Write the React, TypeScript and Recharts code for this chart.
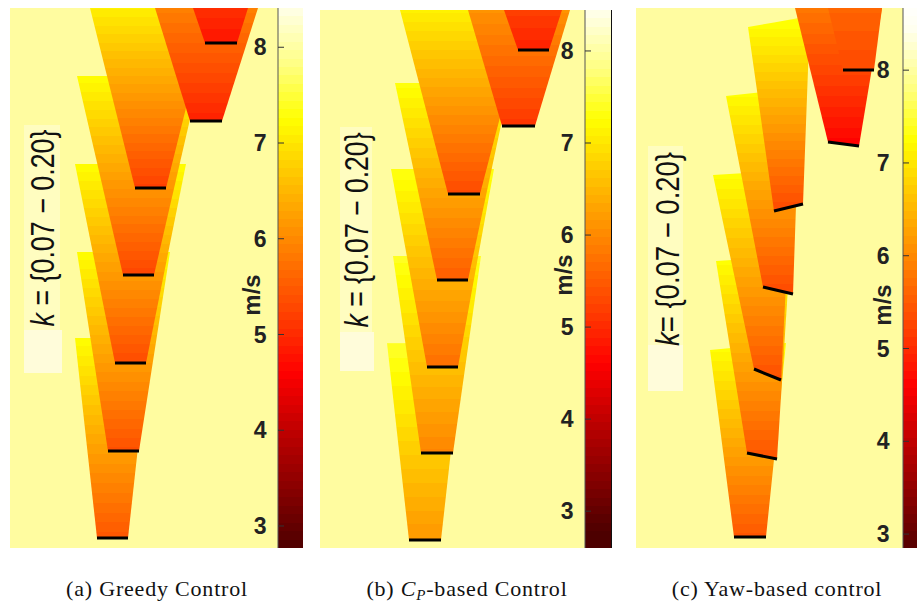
import React from "react";
import {
  ComposedChart,
  Area,
  Line,
  XAxis,
  YAxis,
  ReferenceArea,
  ReferenceDot,
  ReferenceLine,
} from "recharts";

type Pt = [number, number];

// colour map of the bars (speed in m/s -> colour)
const cmapSpeeds = [2.77, 3.3, 4.0, 4.6, 5.2, 5.9, 6.6, 7.25, 7.8, 8.45, 8.7];
const cmapColors = ["#4d0000", "#800000", "#c00000", "#ff0000", "#ff3f00", "#ff8000", "#ffc000", "#ffff00", "#ffff80", "#fffff0", "#ffffff"];
const cbTicks = [3, 4, 5, 6, 7, 8];

// wake footprints, grid units (x across, y downstream). vertices: rotor left, rotor right, far right, far left
const greedyWakes: Pt[][] = [
  [[87, 10], [118, 10], [140, 210], [65, 210]],
  [[98, 97], [129, 97], [160, 296], [67, 296]],
  [[105, 185], [136, 185], [176, 384], [65, 384]],
  [[113, 273], [144, 273], [190, 472], [67, 472]],
  [[125, 360], [156, 360], [201, 540], [80, 540]],
  [[180, 427], [212, 427], [248, 540], [145, 540]],
  [[195, 505], [227, 505], [238, 540], [183, 540]],
];
const greedyNear = [5.45, 5.38, 5.32, 5.26, 5.2, 4.9, 4.78];
const greedyFar = [7.25, 7.25, 7.25, 7.25, 7.1, 5.9, 5.05];

const cpWakes: Pt[][] = [
  [[89, 8], [121, 8], [143, 205], [67, 205]],
  [[101, 95], [133, 95], [161, 292], [73, 292]],
  [[107, 181], [138, 181], [174, 379], [71, 379]],
  [[117, 268], [148, 268], [190, 465], [75, 465]],
  [[128, 354], [160, 354], [208, 538], [80, 538]],
  [[182, 422], [215, 422], [250, 538], [148, 538]],
  [[198, 498], [229, 498], [242, 538], [184, 538]],
];
const cpNear = [6.15, 5.95, 5.7, 5.5, 5.3, 5.1, 4.9];
const cpFar = [7.45, 7.4, 7.35, 7.3, 7.1, 6.1, 5.2];

const yawWakes: Pt[][] = [
  [[98, 11], [130, 11], [150, 205], [74, 198]],
  [[111, 95], [141, 89], [154, 292], [80, 287]],
  [[118, 179], [145, 168], [156, 378], [77, 373]],
  [[127, 261], [157, 254], [164, 460], [90, 452]],
  [[138, 337], [167, 344], [174, 532], [112, 521]],
  [[192, 406], [223, 402], [246, 540], [159, 540]],
  [[207, 478], [238, 478], [246, 540], [192, 540]],
];
const yawNear = [5.45, 5.4, 5.35, 5.3, 5.3, 4.6, 5.3];
const yawFar = [7.3, 7.3, 7.3, 7.3, 7.35, 5.8, 5.6];

const BG = "#FFFCA0";
const LEVELS = 64;

function hex(h: string) {
  return [1, 3, 5].map((i) => parseInt(h.slice(i, i + 2), 16));
}

function cmap(v: number) {
  const s = cmapSpeeds;
  if (v <= s[0]) return cmapColors[0];
  if (v >= s[s.length - 1]) return cmapColors[s.length - 1];
  let i = 0;
  while (v > s[i + 1]) i++;
  const t = (v - s[i]) / (s[i + 1] - s[i]);
  const a = hex(cmapColors[i]);
  const b = hex(cmapColors[i + 1]);
  const c = a.map((x, k) => Math.round(x + (b[k] - x) * t));
  return `rgb(${c[0]},${c[1]},${c[2]})`;
}

// stepped gradient (discrete colour levels like the original figure)
function bandStops(v0: number, v1: number, lo: number, hi: number) {
  const step = (hi - lo) / LEVELS;
  const band = (v: number) => Math.floor((v - lo) / step);
  const col = (b: number) => cmap(lo + (b + 0.5) * step);
  const out: React.ReactNode[] = [];
  const b0 = band(v0);
  const b1 = band(v1);
  const dir = b1 >= b0 ? 1 : -1;
  out.push(<stop key="s" offset={0} stopColor={col(b0)} />);
  for (let b = b0; b !== b1; b += dir) {
    const edge = lo + (dir > 0 ? b + 1 : b) * step;
    const t = (edge - v0) / (v1 - v0);
    out.push(<stop key={`a${b}`} offset={t} stopColor={col(b)} />);
    out.push(<stop key={`b${b}`} offset={t} stopColor={col(b + dir)} />);
  }
  out.push(<stop key="e" offset={1} stopColor={col(b1)} />);
  return out;
}

// convex polygon -> lower/upper bounds along x, for a range Area
function toRange(poly: Pt[]) {
  const xs = Array.from(new Set(poly.map((p) => p[0]))).sort((a, b) => a - b);
  return xs.map((x) => {
    const ys: number[] = [];
    for (let i = 0; i < poly.length; i++) {
      const [x1, y1] = poly[i];
      const [x2, y2] = poly[(i + 1) % poly.length];
      if (x1 === x2) {
        if (x === x1) ys.push(y1, y2);
        continue;
      }
      if (x >= Math.min(x1, x2) && x <= Math.max(x1, x2)) ys.push(y1 + ((y2 - y1) * (x - x1)) / (x2 - x1));
    }
    return { x, y: [Math.min(...ys), Math.max(...ys)] };
  });
}

interface PanelCfg {
  id: string;
  left: number;
  top: number;
  width: number;
  height: number;
  wakes: Pt[][];
  near: number[];
  far: number[];
  range: number[];
  box: number[];
  patch: number[];
  labelAt: Pt;
  labelLen: number;
  labelText: string;
}

const panels: PanelCfg[] = [
  { id: "a", left: 10, top: 8, width: 268, height: 540, wakes: greedyWakes, near: greedyNear, far: greedyFar, range: [2.77, 8.41],
    box: [14, 50, 218, 423], patch: [14, 52, 175, 218], labelAt: [32, 320], labelLen: 197, labelText: " = {0.07 − 0.20}" },
  { id: "b", left: 320, top: 10, width: 265, height: 538, wakes: cpWakes, near: cpNear, far: cpFar, range: [2.6, 8.445],
    box: [20, 52, 216, 421], patch: [20, 54, 177, 216], labelAt: [36, 318], labelLen: 195, labelText: " = {0.07 − 0.20}" },
  { id: "c", left: 636, top: 8, width: 267, height: 540, wakes: yawWakes, near: yawNear, far: yawFar, range: [2.85, 8.67],
    box: [12, 47, 203, 402], patch: [12, 47, 157, 203], labelAt: [31, 299], labelLen: 194, labelText: "= {0.07 − 0.20}" },
];

const bars = [
  { id: "a", left: 278, top: 8, width: 25, height: 540, range: [2.77, 8.41], margin: 17.5, ms: 27, msY: 295, border: false },
  { id: "b", left: 585, top: 10, width: 27, height: 538, range: [2.6, 8.445], margin: 17.5, ms: 22, msY: 275, border: true },
  { id: "c", left: 903, top: 8, width: 14, height: 540, range: [2.85, 8.67], margin: 19.5, ms: 21, msY: 305, border: false },
];

function WakePanel({ cfg }: { cfg: PanelCfg }) {
  return (
    <div style={{ position: "absolute", left: cfg.left, top: cfg.top, width: cfg.width, height: cfg.height, background: BG }}>
      <ComposedChart width={cfg.width} height={cfg.height} margin={{ top: 0, right: 0, bottom: 0, left: 0 }}>
        <defs>
          {cfg.wakes.map((w, i) => (
            <linearGradient key={i} id={`${cfg.id}-w${i}`} x1="0" y1="1" x2="0" y2="0">
              {bandStops(cfg.near[i], cfg.far[i], cfg.range[0], cfg.range[1])}
            </linearGradient>
          ))}
        </defs>
        <XAxis type="number" dataKey="x" domain={[0, cfg.width]} hide allowDataOverflow />
        <YAxis type="number" domain={[0, cfg.height]} hide allowDataOverflow />
        <ReferenceArea x1={cfg.box[0]} x2={cfg.box[1]} y1={cfg.box[2]} y2={cfg.box[3]} fill="#FFFDC0" fillOpacity={1} stroke="none" />
        <ReferenceArea x1={cfg.patch[0]} x2={cfg.patch[1]} y1={cfg.patch[2]} y2={cfg.patch[3]} fill="#FFFCDA" fillOpacity={1} stroke="none" />
        {cfg.wakes.map((w, i) => (
          <Area
            key={`w${i}`}
            data={toRange(w)}
            dataKey="y"
            type="linear"
            stroke="none"
            fill={`url(#${cfg.id}-w${i})`}
            fillOpacity={1}
            dot={false}
            activeDot={false}
            isAnimationActive={false}
          />
        ))}
        {cfg.wakes.map((w, i) => (
          <Line
            key={`r${i}`}
            data={[{ x: w[0][0], y: w[0][1] }, { x: w[1][0], y: w[1][1] }]}
            dataKey="y"
            type="linear"
            stroke="#000"
            strokeWidth={3}
            dot={false}
            activeDot={false}
            isAnimationActive={false}
          />
        ))}
        <ReferenceDot
          x={cfg.labelAt[0]}
          y={cfg.labelAt[1]}
          r={1}
          fill="none"
          stroke="none"
          label={{
            content: (props: any) => {
              const vb = props.viewBox;
              const cx = vb.x + vb.width / 2;
              const cy = vb.y + vb.height / 2;
              return (
                <text
                  x={cx}
                  y={cy}
                  transform={`rotate(-90 ${cx} ${cy})`}
                  textAnchor="middle"
                  dominantBaseline="central"
                  fontSize={33}
                  fontFamily="Liberation Sans, Arial, sans-serif"
                  fill="#111"
                  textLength={cfg.labelLen}
                  lengthAdjust="spacingAndGlyphs"
                >
                  <tspan fontStyle="italic">k</tspan>
                  {cfg.labelText}
                </text>
              );
            },
          }}
        />
      </ComposedChart>
    </div>
  );
}

function ColorBar({ cfg }: { cfg: (typeof bars)[number] }) {
  const [lo, hi] = cfg.range;
  return (
    <div style={{ position: "absolute", left: cfg.left - 60, top: cfg.top }}>
      <ComposedChart width={60 + cfg.width} height={cfg.height} margin={{ top: 0, right: 0, bottom: 0, left: 0 }}>
        <defs>
          <linearGradient id={`cb-${cfg.id}`} x1="0" y1="1" x2="0" y2="0">
            {bandStops(lo + 1e-6, hi - 1e-6, lo, hi)}
          </linearGradient>
        </defs>
        <XAxis type="number" dataKey="x" domain={[0, 1]} hide allowDataOverflow />
        <ReferenceArea x1={0} x2={1} y1={lo} y2={hi} fill={`url(#cb-${cfg.id})`} fillOpacity={1} stroke="none" ifOverflow="visible" />
        {cfg.border && <ReferenceLine x={1} stroke="#111" strokeWidth={2} />}
        <YAxis
          type="number"
          domain={[lo, hi]}
          ticks={cbTicks}
          interval={0}
          allowDataOverflow
          width={60}
          tickSize={-6}
          tickMargin={cfg.margin}
          axisLine={{ stroke: "#555", strokeWidth: 1 }}
          tickLine={{ stroke: "#333", strokeWidth: 1 }}
          tick={{ fontSize: 23, fontWeight: 700, fill: "#222", fontFamily: "Liberation Sans, Arial, sans-serif" }}
          label={{
            content: (props: any) => {
              const vb = props.viewBox;
              const cx = vb.x + vb.width - cfg.ms;
              const cy = cfg.msY - cfg.top;
              return (
                <text
                  x={cx}
                  y={cy}
                  transform={`rotate(-90 ${cx} ${cy})`}
                  textAnchor="middle"
                  dominantBaseline="central"
                  fontSize={24}
                  fontWeight={700}
                  fill="#222"
                  fontFamily="Liberation Sans, Arial, sans-serif"
                >
                  m/s
                </text>
              );
            },
          }}
        />
      </ComposedChart>
    </div>
  );
}

const captionStyle: React.CSSProperties = {
  position: "absolute",
  top: 576,
  width: 320,
  textAlign: "center",
  fontFamily: '"Liberation Serif", "Times New Roman", serif',
  fontSize: 22,
  letterSpacing: 0.8,
  color: "#111",
  whiteSpace: "nowrap",
};

export default function App() {
  return (
    <div style={{ position: "absolute", left: 0, top: 0, width: 917, height: 606, background: "#fff", overflow: "hidden" }}>
      {panels.map((p) => (
        <WakePanel key={p.id} cfg={p} />
      ))}
      {bars.map((b) => (
        <ColorBar key={b.id} cfg={b} />
      ))}
      <div style={{ ...captionStyle, left: 157 - 160 }}>(a) Greedy Control</div>
      <div style={{ ...captionStyle, left: 467 - 160 }}>
        (b) <i>C</i>
        <span style={{ fontStyle: "italic", fontSize: 15, position: "relative", top: 4 }}>P</span>-based Control
      </div>
      <div style={{ ...captionStyle, left: 777 - 160 }}>(c) Yaw-based control</div>
    </div>
  );
}
